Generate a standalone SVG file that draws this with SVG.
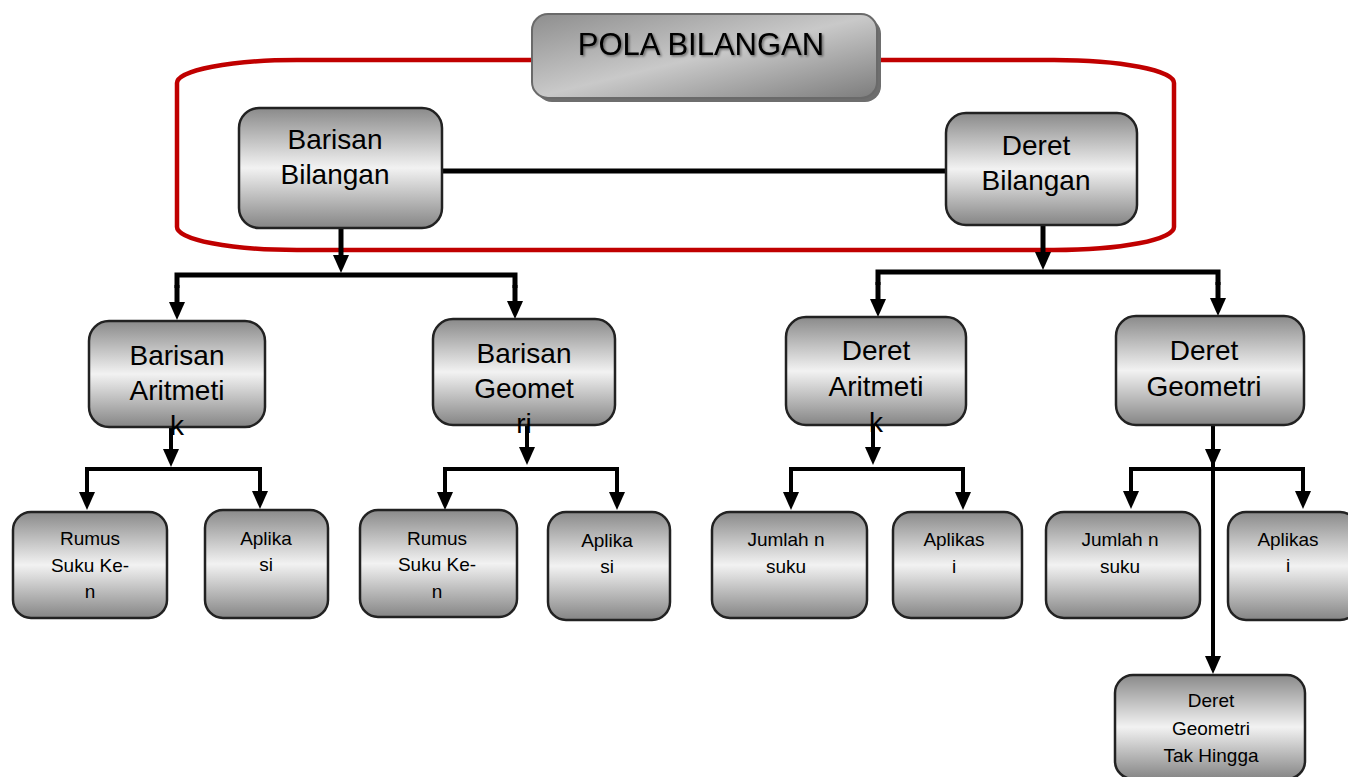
<svg xmlns="http://www.w3.org/2000/svg" width="1348" height="777" viewBox="0 0 1348 777">
<style>
.node rect{fill:url(#g);stroke:#222;stroke-width:2.5}
.t{font-family:"Liberation Sans",Arial,sans-serif;fill:#000;text-anchor:middle}
.big{font-size:28px}
.sm{font-size:19px}
.c{fill:none;stroke:#000;stroke-width:5}
.c2{fill:none;stroke:#000;stroke-width:4}
.a{marker-end:url(#ah)}
</style>
<defs>
<linearGradient id="g" x1="0" y1="0" x2="0" y2="1">
<stop offset="0" stop-color="#8a8a8a"/>
<stop offset="0.5" stop-color="#f2f2f2"/>
<stop offset="1" stop-color="#858585"/>
</linearGradient>
<linearGradient id="tg" x1="0" y1="0" x2="1" y2="1">
<stop offset="0" stop-color="#8e8e8e"/>
<stop offset="0.5" stop-color="#c9c9c9"/>
<stop offset="1" stop-color="#7c7c7c"/>
</linearGradient>
<filter id="ts" x="-10%" y="-30%" width="120%" height="160%">
<feDropShadow dx="1.5" dy="1.5" stdDeviation="1.2" flood-color="#000" flood-opacity="0.45"/>
</filter>
<marker id="ah" markerUnits="userSpaceOnUse" markerWidth="18" markerHeight="16" viewBox="0 0 18 16" refX="8" refY="8" orient="auto">
<path d="M0,0 L18,8 L0,16 Z" fill="#000"/>
</marker>
</defs>
<rect width="1348" height="777" fill="#fff"/>
<path id="frame" d="M297,60 H1054 A120 23 0 0 1 1174 83 V227 A120 23 0 0 1 1054 250 H297 A120 23 0 0 1 177 227 V83 A120 23 0 0 1 297 60 Z" fill="none" stroke="#c00000" stroke-width="4.5"/>
<g id="connectors">
<line class="c" x1="442" y1="171" x2="946" y2="171"/>
<line class="c a" x1="341" y1="228" x2="341" y2="263"/>
<polyline class="c" points="177,288 177,275 515,275 515,288"/>
<line class="c a" x1="177" y1="285" x2="177" y2="310"/>
<line class="c a" x1="515" y1="285" x2="515" y2="309"/>
<line class="c a" x1="1043" y1="225" x2="1043" y2="260"/>
<polyline class="c" points="878,285 878,272 1218,272 1218,285"/>
<line class="c a" x1="878" y1="282" x2="878" y2="307"/>
<line class="c a" x1="1218" y1="282" x2="1218" y2="306"/>
<line class="c2 a" x1="171" y1="423" x2="171" y2="457"/>
<polyline class="c2" points="87,480 87,469 260,469 260,480"/>
<line class="c2 a" x1="87" y1="478" x2="87" y2="500"/>
<line class="c2 a" x1="260" y1="478" x2="260" y2="499"/>
<line class="c2 a" x1="527" y1="423" x2="527" y2="455"/>
<polyline class="c2" points="445,480 445,469 617,469 617,480"/>
<line class="c2 a" x1="445" y1="478" x2="445" y2="500"/>
<line class="c2 a" x1="617" y1="478" x2="617" y2="500"/>
<line class="c2 a" x1="873" y1="423" x2="873" y2="455"/>
<polyline class="c2" points="791,480 791,469 963,469 963,480"/>
<line class="c2 a" x1="791" y1="478" x2="791" y2="500"/>
<line class="c2 a" x1="963" y1="478" x2="963" y2="500"/>
<line class="c2 a" x1="1213" y1="425" x2="1213" y2="457"/>
<polyline class="c2" points="1131,480 1131,469 1303,469 1303,480"/>
<line class="c2" x1="1213" y1="460" x2="1213" y2="670"/>
<line class="c2 a" x1="1131" y1="478" x2="1131" y2="499"/>
<line class="c2 a" x1="1303" y1="478" x2="1303" y2="499"/>
<line class="c2 a" x1="1213" y1="640" x2="1213" y2="664"/>
</g>
<g id="title">
<rect x="536" y="18" width="345" height="84" rx="16" fill="#6e6e6e"/>
<rect x="532" y="14" width="345" height="84" rx="16" fill="url(#tg)" stroke="#6a6a6a" stroke-width="2"/>
<text class="t" x="701" y="55" font-size="31" filter="url(#ts)">POLA BILANGAN</text>
</g>
<g id="barisan-bilangan" class="node">
<rect x="239" y="108" width="203" height="120" rx="20"/>
<text class="t big"><tspan x="335" y="149">Barisan</tspan><tspan x="335" y="184">Bilangan</tspan></text>
</g>
<g id="deret-bilangan" class="node">
<rect x="946" y="113" width="191" height="112" rx="20"/>
<text class="t big"><tspan x="1036" y="155">Deret</tspan><tspan x="1036" y="190">Bilangan</tspan></text>
</g>
<g id="barisan-aritmetik" class="node">
<rect x="89" y="321" width="176" height="106" rx="20"/>
<text class="t big"><tspan x="177" y="365">Barisan</tspan><tspan x="177" y="400">Aritmeti</tspan><tspan x="177" y="435">k</tspan></text>
</g>
<g id="barisan-geometri" class="node">
<rect x="433" y="319" width="182" height="106" rx="20"/>
<text class="t big"><tspan x="524" y="363">Barisan</tspan><tspan x="524" y="398">Geomet</tspan><tspan x="524" y="433">ri</tspan></text>
</g>
<g id="deret-aritmetik" class="node">
<rect x="786" y="317" width="180" height="108" rx="20"/>
<text class="t big"><tspan x="876" y="360">Deret</tspan><tspan x="876" y="396">Aritmeti</tspan><tspan x="876" y="432">k</tspan></text>
</g>
<g id="deret-geometri" class="node">
<rect x="1116" y="316" width="188" height="109" rx="20"/>
<text class="t big"><tspan x="1204" y="360">Deret</tspan><tspan x="1204" y="396">Geometri</tspan></text>
</g>
<g id="rumus-1" class="node">
<rect x="13" y="512" width="154" height="106" rx="18"/>
<text class="t sm"><tspan x="90" y="545">Rumus</tspan><tspan x="90" y="572">Suku Ke-</tspan><tspan x="90" y="598">n</tspan></text>
</g>
<g id="aplikasi-1" class="node">
<rect x="205" y="510" width="123" height="108" rx="18"/>
<text class="t sm"><tspan x="266" y="545">Aplika</tspan><tspan x="266" y="571">si</tspan></text>
</g>
<g id="rumus-2" class="node">
<rect x="360" y="510" width="157" height="107" rx="18"/>
<text class="t sm"><tspan x="437" y="545">Rumus</tspan><tspan x="437" y="571">Suku Ke-</tspan><tspan x="437" y="598">n</tspan></text>
</g>
<g id="aplikasi-2" class="node">
<rect x="548" y="512" width="122" height="108" rx="18"/>
<text class="t sm"><tspan x="607" y="547">Aplika</tspan><tspan x="607" y="573">si</tspan></text>
</g>
<g id="jumlah-1" class="node">
<rect x="712" y="512" width="155" height="106" rx="18"/>
<text class="t sm"><tspan x="786" y="546">Jumlah n</tspan><tspan x="786" y="573">suku</tspan></text>
</g>
<g id="aplikasi-3" class="node">
<rect x="893" y="512" width="129" height="106" rx="18"/>
<text class="t sm"><tspan x="954" y="546">Aplikas</tspan><tspan x="954" y="573">i</tspan></text>
</g>
<g id="jumlah-2" class="node">
<rect x="1046" y="512" width="154" height="106" rx="18"/>
<text class="t sm"><tspan x="1120" y="546">Jumlah n</tspan><tspan x="1120" y="573">suku</tspan></text>
</g>
<g id="aplikasi-4" class="node">
<rect x="1228" y="512" width="130" height="108" rx="18"/>
<text class="t sm"><tspan x="1288" y="546">Aplikas</tspan><tspan x="1288" y="572">i</tspan></text>
</g>
<g id="tak-hingga" class="node">
<rect x="1115" y="675" width="190" height="104" rx="18"/>
<text class="t sm"><tspan x="1211" y="707">Deret</tspan><tspan x="1211" y="735">Geometri</tspan><tspan x="1211" y="762">Tak Hingga</tspan></text>
</g>
</svg>
